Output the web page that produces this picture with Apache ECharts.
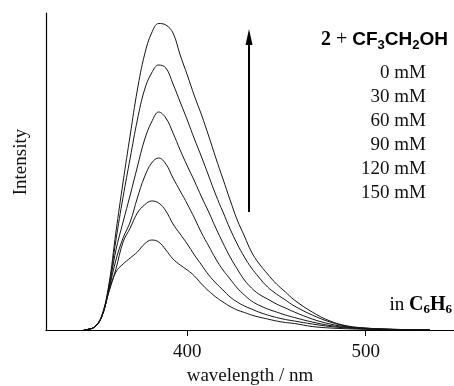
<!DOCTYPE html>
<html>
<head>
<meta charset="utf-8">
<script src="https://cdn.jsdelivr.net/npm/echarts@6/dist/echarts.min.js"></script>
<style>
html,body{margin:0;padding:0;background:#fff;}
#c{width:454px;height:386px;}
</style>
</head>
<body>
<div id="c"></div>
<script>
const wavelengths = [342, 344, 348, 352, 356, 360, 364, 368, 372, 376, 380, 384, 388, 392, 396, 400, 404, 408, 412, 416, 420, 424, 428, 432, 436, 440, 445, 450, 455, 460, 470, 480, 490, 500, 510, 520, 530, 536];
const mM0   = [0, 0.5, 3, 13, 38, 58, 66, 72, 78, 86, 90, 88, 80, 71, 65, 60, 54, 46, 39, 33, 28, 23.5, 20, 17.5, 15, 13, 11, 9, 7.5, 6.5, 3.5, 2, 1.2, 0.7, 0.4, 0.2, 0.1, 0];
const mM30  = [0, 0.5, 3, 13, 38, 61, 88, 102, 117, 125, 129, 127, 119, 106, 96, 86, 75, 65, 55, 47, 40, 33, 28, 24, 21, 18, 15, 12.5, 10.5, 9, 6, 3.5, 2, 1.1, 0.6, 0.3, 0.2, 0];
const mM60  = [0, 0.5, 3, 13, 40, 70, 92, 108, 132, 153, 167, 172, 166, 152, 139, 126, 112, 97, 84, 71, 60, 51, 42, 35, 29, 25, 21, 18, 15, 12.5, 8, 4.5, 2.5, 1.3, 0.7, 0.4, 0.2, 0];
const mM90  = [0, 0.5, 3, 13, 41, 80, 108, 135, 163, 190, 208, 218, 212, 197, 180, 164, 149, 133, 118, 102, 87, 73, 61, 50, 42, 36, 31, 26, 22, 18, 11, 6, 3, 1.5, 0.8, 0.4, 0.2, 0];
const mM120 = [0, 0.5, 3, 14, 43, 90, 133, 172, 210, 240, 257, 265, 262, 246, 228, 210, 191, 173, 154, 135, 118, 101, 86, 73, 62, 53, 43, 36, 30, 24, 15, 8, 3.5, 1.8, 1, 0.5, 0.3, 0];
const mM150 = [0, 0.5, 3, 14, 45, 98, 148, 195, 240, 275, 297, 306.5, 305, 297, 275, 255, 234, 215, 194, 172, 151, 130, 110, 94, 78, 67, 56, 46, 38, 30, 18, 9, 4, 2, 1, 0.5, 0.3, 0];
const seriesNames = ['0 mM', '30 mM', '60 mM', '90 mM', '120 mM', '150 mM'];
const seriesValues = [mM0, mM30, mM60, mM90, mM120, mM150];
const xTicks = [400, 500];

const SERIF = '"Liberation Serif", "Times New Roman", serif';
const SANS = '"Liberation Sans", Arial, sans-serif';

const chart = echarts.init(document.getElementById('c'));

const series = seriesValues.map((vals, i) => ({
  name: seriesNames[i],
  type: 'line',
  data: wavelengths.map((w, j) => [w, vals[j]]),
  smooth: 0.4,
  symbol: 'none',
  lineStyle: { color: '#151515', width: 1 },
  silent: true,
  z: 3
}));

const legendGraphics = seriesNames.map((n, i) => ({
  type: 'text',
  right: 454 - 426,
  top: 64 + i * 24,
  style: { text: n, font: '19px ' + SERIF, fill: '#111', textAlign: 'right' }
}));

chart.setOption({
  animation: false,
  backgroundColor: '#fff',
  grid: { left: 46, right: 0, top: 13, bottom: 56, outerBoundsMode: 'none', containLabel: false },
  xAxis: {
    type: 'value',
    min: 320.8,
    max: 549.5,
    axisLine: { show: true, lineStyle: { color: '#000', width: 1.2 } },
    axisTick: { show: true, customValues: xTicks, length: 6, lineStyle: { color: '#000' } },
    axisLabel: { customValues: xTicks, margin: 13, fontFamily: SERIF, fontSize: 19, color: '#111' },
    splitLine: { show: false },
    name: 'wavelength / nm',
    nameLocation: 'middle',
    nameGap: 37,
    nameTextStyle: { fontFamily: SERIF, fontSize: 19, color: '#111', verticalAlign: 'top' }
  },
  yAxis: {
    type: 'value',
    min: 0,
    max: 317,
    axisLine: { show: true, lineStyle: { color: '#000', width: 1.2 } },
    axisTick: { show: false },
    axisLabel: { show: false },
    splitLine: { show: false }
  },
  series: series,
  graphic: [
    {
      type: 'text',
      x: 21, y: 162,
      rotation: Math.PI / 2,
      style: { text: 'Intensity', font: '19px ' + SERIF, fill: '#111', textAlign: 'center', textVerticalAlign: 'middle' }
    },
    {
      type: 'line',
      shape: { x1: 249, y1: 212, x2: 249, y2: 42 },
      style: { stroke: '#000', lineWidth: 2 }
    },
    {
      type: 'polygon',
      shape: { points: [[249, 29], [252.5, 45], [245.5, 45]] },
      style: { fill: '#000' }
    },
    {
      type: 'text',
      right: 454 - 448,
      top: 30,
      style: {
        text: '{a|2}{p| + }{b|CF}{s|3}{b|CH}{s|2}{b|OH}',
        rich: {
          a: { fontFamily: SERIF, fontWeight: 'bold', fontSize: 20, lineHeight: 23, fill: '#000' },
          p: { fontFamily: SERIF, fontSize: 20, lineHeight: 23, fill: '#000' },
          b: { fontFamily: SANS, fontWeight: 'bold', fontSize: 19, lineHeight: 23, fill: '#000' },
          s: { fontFamily: SANS, fontWeight: 'bold', fontSize: 13, lineHeight: 11, verticalAlign: 'bottom', fill: '#000' }
        }
      }
    },
    ...legendGraphics,
    {
      type: 'text',
      right: 2,
      top: 295,
      style: {
        text: '{r|in }{c|C}{s|6}{c|H}{s|6}',
        rich: {
          r: { fontFamily: SERIF, fontSize: 19, lineHeight: 23, fill: '#000' },
          c: { fontFamily: SERIF, fontWeight: 'bold', fontSize: 20, lineHeight: 23, fill: '#000' },
          s: { fontFamily: SERIF, fontWeight: 'bold', fontSize: 13, lineHeight: 11, verticalAlign: 'bottom', fill: '#000' }
        }
      }
    }
  ]
});
</script>
</body>
</html>
